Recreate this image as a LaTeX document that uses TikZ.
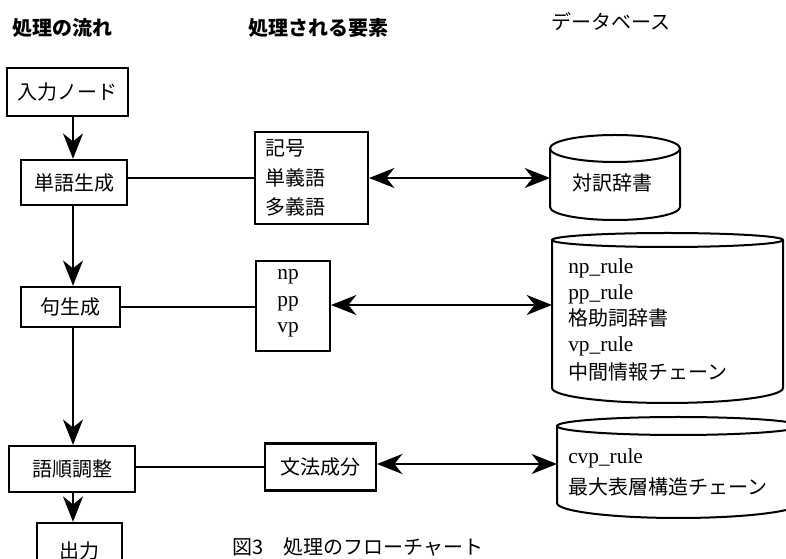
\documentclass[tikz,border=0pt]{standalone}
\usepackage{fontspec}
\setmainfont{Liberation Serif}
\newfontfamily\jpfont{Noto Sans CJK JP}
\usetikzlibrary{arrows.meta}
\begin{document}
\begin{tikzpicture}[x=0.75pt,y=-0.75pt,
  jptext/.style={font=\jpfont\fontsize{15}{18}\selectfont},
  jphead/.style={font=\jpfont\bfseries\fontsize{15}{18}\selectfont},
  latext/.style={font=\fontsize{16}{19}\selectfont},
  flowbox/.style={draw, line width=1.8pt, inner sep=0pt, jptext},
  elbox/.style={draw, line width=1.6pt, inner sep=0pt},
  dbline/.style={line width=1.5pt},
  conn/.style={line width=1.5pt},
  flowarrow/.style={line width=1.5pt, -{Stealth[length=19pt,width=15pt,inset=6pt]}},
  dblarrow/.style={line width=1.5pt, {Stealth[length=19pt,width=15pt,inset=6pt]}-{Stealth[length=19pt,width=15pt,inset=6pt]}}
]
\useasboundingbox (0,0) rectangle (786,559);

% headers
\node[jphead, anchor=west, inner sep=0pt] (h1) at (12,28) {処理の流れ};
\node[jphead, anchor=west, inner sep=0pt] (h2) at (248,28) {処理される要素};
\node[jptext, anchor=west, inner sep=0pt] (h3) at (551,22) {データベース};

% flow boxes
\node[flowbox, minimum width=90.75pt, minimum height=36pt] (in) at (67.5,92) {入力ノード};
\node[flowbox, minimum width=79.5pt, minimum height=33.75pt] (word) at (74,182.5) {単語生成};
\node[flowbox, minimum width=74.25pt, minimum height=30pt] (phrase) at (70.5,307) {句生成};
\node[flowbox, minimum width=94.5pt, minimum height=34.5pt] (order) at (72,469) {語順調整};
\node[flowbox, minimum width=63.75pt, minimum height=42pt] (out) at (79.5,551) {出力};

\coordinate (ax) at (73,0);
\draw[flowarrow] (in.south -| ax) -- (word.north -| ax);
\draw[flowarrow] (word.south -| ax) -- (phrase.north -| ax);
\draw[flowarrow] (phrase.south -| ax) -- (order.north -| ax);
\draw[flowarrow] (order.south -| ax) -- (out.north -| ax);

% element boxes
\node[elbox, minimum width=84.75pt, minimum height=69pt] (el1) at (311.5,178) {};
\node[jptext, anchor=west, inner sep=0pt] (el1a) at (265,148) {記号};
\node[jptext, anchor=west, inner sep=0pt] (el1b) at (265,178) {単義語};
\node[jptext, anchor=west, inner sep=0pt] (el1c) at (265,207) {多義語};

\node[elbox, minimum width=55.5pt, minimum height=67.5pt] (el2) at (293,306) {};
\node[latext, inner sep=0pt] (el2a) at (288,277) {np};
\node[latext, inner sep=0pt] (el2b) at (288,304) {pp};
\node[latext, inner sep=0pt] (el2c) at (288,330) {vp};

\node[elbox, jptext, minimum width=83.25pt, minimum height=35.25pt] (el3) at (320.5,467) {文法成分};

% flow to elements
\draw[conn] (word.east |- el1.west) -- (el1.west);
\draw[conn] (phrase.east) -- (phrase.east -| el2.west);
\draw[conn] (order.east |- el3.west) -- (el3.west);

% databases
\draw[dbline] (615,148.5) ellipse [x radius=65, y radius=13.5];
\draw[dbline] (550,148.5) -- (550,207) arc[start angle=180, end angle=0, x radius=65, y radius=13] -- (680,148.5);
\node[jptext, inner sep=0pt] (db1t) at (612,183) {対訳辞書};
\coordinate (db1w) at (550,178);

\draw[dbline] (667.5,240) ellipse [x radius=115.5, y radius=7];
\draw[dbline] (552,240) -- (552,388) arc[start angle=180, end angle=0, x radius=115.5, y radius=15] -- (783,240);
\node[latext, anchor=west, inner sep=0pt] (db2a) at (568,268) {np\_rule};
\node[latext, anchor=west, inner sep=0pt] (db2b) at (568,294) {pp\_rule};
\node[jptext, anchor=west, inner sep=0pt] (db2c) at (568,318) {格助詞辞書};
\node[latext, anchor=west, inner sep=0pt] (db2d) at (568,346) {vp\_rule};
\node[jptext, anchor=west, inner sep=0pt] (db2e) at (568,372) {中間情報チェーン};
\coordinate (db2w) at (552,305);

\draw[dbline] (678.5,426) ellipse [x radius=121.5, y radius=9];
\draw[dbline] (557,426) -- (557,503) arc[start angle=180, end angle=0, x radius=121.5, y radius=15] -- (800,426);
\node[latext, anchor=west, inner sep=0pt] (db3a) at (568,458) {cvp\_rule};
\node[jptext, anchor=west, inner sep=0pt] (db3b) at (568,487) {最大表層構造チェーン};
\coordinate (db3w) at (557,464);

% element to database
\draw[dblarrow] (el1.east) -- (el1.east -| db1w);
\draw[dblarrow] (el2.east |- db2w) -- (db2w);
\draw[dblarrow] (el3.east |- db3w) -- (db3w);

% caption
\node[jptext, anchor=west, inner sep=0pt] (cap) at (232,547) {図3　処理のフローチャート};
\end{tikzpicture}
\end{document}
